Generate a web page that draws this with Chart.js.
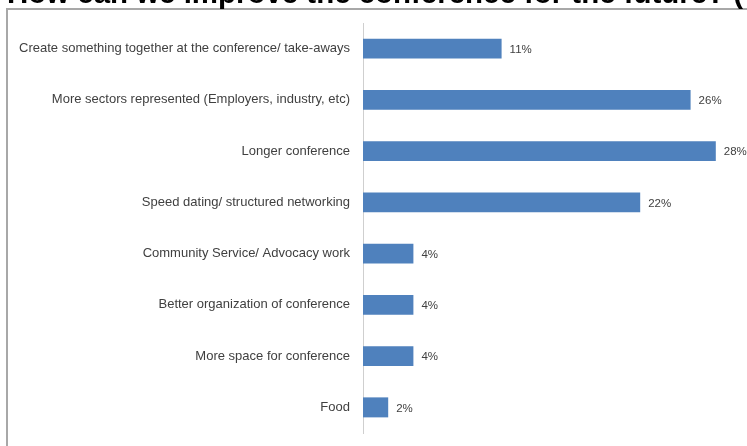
<!DOCTYPE html>
<html>
<head>
<meta charset="utf-8">
<title>How can we improve the conference for the future?</title>
<script src="https://cdn.jsdelivr.net/npm/chart.js@4/dist/chart.umd.min.js"></script>
<style>
  html, body { margin: 0; padding: 0; background: #ffffff; overflow: hidden; }
  #wrap { position: relative; width: 747px; height: 446px; }
  canvas { display: block; }
</style>
</head>
<body>
<div id="wrap"><canvas id="chart" width="747" height="446"></canvas></div>
<script>
// Survey question and answers
const titleText = "How can we improve the conference for the future? (";
const categories = [
  "Create something together at the conference/ take-aways",
  "More sectors represented (Employers, industry, etc)",
  "Longer conference",
  "Speed dating/ structured networking",
  "Community Service/ Advocacy work",
  "Better organization of conference",
  "More space for conference",
  "Food"
];
// Share of respondents, in percent
const shares = [11, 26, 28, 22, 4, 4, 4, 2];

const BAR_BLUE = "#4f81bd";
const LABEL_FONT = '"Liberation Sans", Arial, sans-serif';

// Clipped heading and the frame around the plot
const framePlugin = {
  id: "frame",
  beforeDraw(chart) {
    const ctx = chart.ctx;
    ctx.save();
    ctx.fillStyle = "#ffffff";
    ctx.fillRect(0, 0, chart.width, chart.height);
    ctx.strokeStyle = "#a8a8a8";
    ctx.lineWidth = 2;
    ctx.strokeRect(7, 9, chart.width + 20, chart.height + 20);
    // heading, sized to span the width
    ctx.font = 'bold 100px ' + LABEL_FONT;
    const w100 = ctx.measureText(titleText).width;
    const size = 100 * 736 / w100;
    ctx.font = 'bold ' + size.toFixed(2) + 'px ' + LABEL_FONT;
    ctx.fillStyle = "#000000";
    ctx.textBaseline = "alphabetic";
    ctx.textAlign = "left";
    ctx.fillText(titleText, 7, 3);
    ctx.restore();
  }
};

// Percentage next to the end of each bar
const valueLabels = {
  id: "valueLabels",
  afterDatasetsDraw(chart) {
    const ctx = chart.ctx;
    const meta = chart.getDatasetMeta(0);
    ctx.save();
    ctx.font = '11.5px ' + LABEL_FONT;
    ctx.fillStyle = "#404040";
    ctx.textAlign = "left";
    ctx.textBaseline = "middle";
    meta.data.forEach((bar, i) => {
      ctx.fillText(shares[i] + "%", bar.x + 8, bar.y + 1);
    });
    ctx.restore();
  }
};

new Chart(document.getElementById("chart"), {
  type: "bar",
  data: {
    labels: categories,
    datasets: [{
      data: shares,
      backgroundColor: BAR_BLUE,
      borderWidth: 0,
      barPercentage: 0.39,
      categoryPercentage: 1
    }]
  },
  options: {
    indexAxis: "y",
    responsive: false,
    devicePixelRatio: 1,
    animation: false,
    layout: { padding: { top: 23, bottom: 13, left: 0, right: 6 } },
    plugins: {
      legend: { display: false },
      title: { display: false },
      tooltip: { enabled: false }
    },
    scales: {
      x: {
        display: false,
        min: 0,
        max: 30
      },
      y: {
        afterFit(scale) {
          // fixed label column; no extra room above/below the axis
          scale.width = 363;
          scale.paddingTop = 0;
          scale.paddingBottom = 0;
        },
        grid: { display: false, drawTicks: false },
        border: { display: true, color: "#cfcfcf", width: 1 },
        ticks: {
          padding: 13,
          color: "#404040",
          font: { family: LABEL_FONT, size: 13 }
        }
      }
    }
  },
  plugins: [framePlugin, valueLabels]
});
</script>
</body>
</html>
